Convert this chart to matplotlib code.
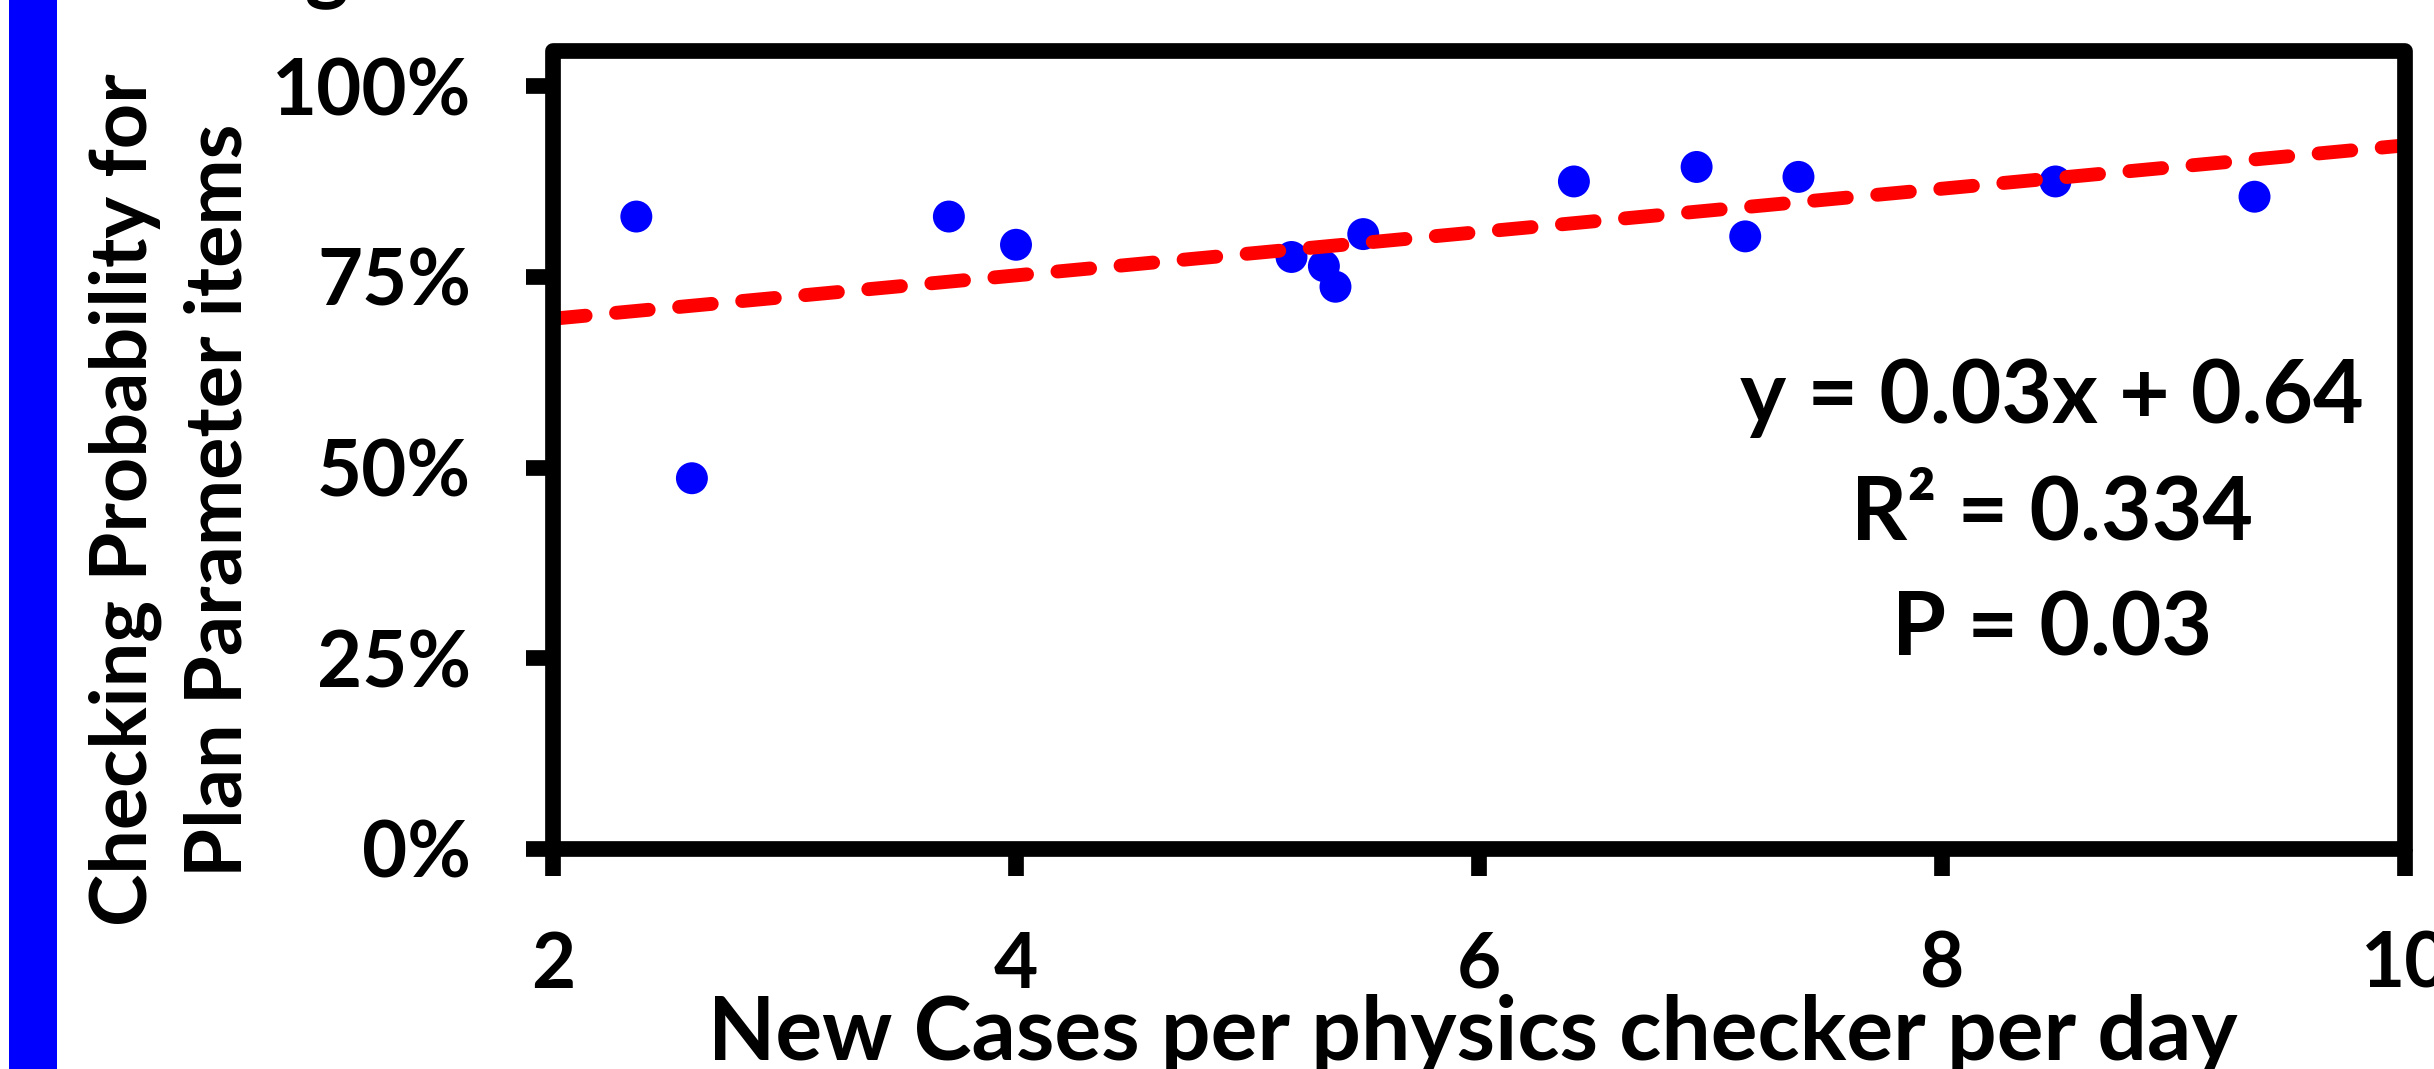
import numpy as np
import matplotlib
matplotlib.use("Agg")
import matplotlib.pyplot as plt
from matplotlib.patches import Rectangle

# ---- data ----
cases_per_checker = [2.36, 2.60, 3.71, 4.00, 5.19, 5.33, 5.38, 5.50,
                     6.41, 6.94, 7.15, 7.38, 8.49, 9.35]
checking_prob = [0.829, 0.486, 0.829, 0.792, 0.776, 0.764, 0.737, 0.806,
                 0.875, 0.894, 0.803, 0.881, 0.875, 0.855]
x_ticks = [2, 4, 6, 8, 10]
y_ticks = [0.0, 0.25, 0.50, 0.75, 1.00]
y_tick_labels = ["0%", "25%", "50%", "75%", "100%"]
stats_lines = ["y = 0.03x + 0.64", "R² = 0.334", "P = 0.03"]
x_label = "New Cases per physics checker per day"
y_label = "Checking Probability for\nPlan Parameter items"

plt.rcParams['font.family'] = ['Lato', 'DejaVu Sans']
plt.rcParams['font.weight'] = 'bold'

W, H = 2434, 1069
fig = plt.figure(figsize=(W / 100, H / 100), dpi=100)
fig.patch.set_facecolor('white')

# axes placement (pixels in reference)
ax_l, ax_r, ax_t, ax_b = 553, 2405, 51, 849
ax = fig.add_axes([ax_l / W, 1 - ax_b / H, (ax_r - ax_l) / W, (ax_b - ax_t) / H])

ax.scatter(cases_per_checker, checking_prob, s=23 ** 2, color='#0000FF',
           edgecolors='none', zorder=3)

slope, intercept = np.polyfit(cases_per_checker, checking_prob, 1)
xl = np.array([x_ticks[0], x_ticks[-1]], dtype=float)
ax.plot(xl, slope * xl + intercept, color='#FF0000', lw=10,
        dashes=(2.36, 2.2), dash_capstyle='round', zorder=4)

ax.set_xlim(x_ticks[0], x_ticks[-1])
ax.set_ylim(0, 1.046)
ax.set_xticks(x_ticks)
ax.set_xticklabels([str(v) for v in x_ticks])
ax.set_yticks(y_ticks)
ax.set_yticklabels(y_tick_labels)

for s in ax.spines.values():
    s.set_visible(False)
frame = Rectangle((0, 0), 1, 1, transform=ax.transAxes, fill=False,
                  ec='black', lw=11.3, joinstyle='round', clip_on=False, zorder=5)
ax.add_patch(frame)

ax.tick_params(axis='both', direction='out', length=19.4, width=11.3,
               color='black', pad=39.6)
ax.tick_params(axis='y', labelsize=56)
ax.tick_params(axis='x', labelsize=55)
for lab in ax.get_xticklabels() + ax.get_yticklabels():
    lab.set_fontweight('bold')

ax.set_xlabel(x_label, fontsize=63, fontweight='bold')
ax.xaxis.label.set_va('baseline')
ax.xaxis.set_label_coords((1473 - ax_l) / (ax_r - ax_l), (ax_b - 1060) / (ax_b - ax_t))

ax.set_ylabel(y_label, fontsize=57, fontweight='bold', linespacing=1.38)
ax.yaxis.label.set_va('center')
ax.yaxis.set_label_coords((172 - ax_l) / (ax_r - ax_l), (ax_b - 500) / (ax_b - ax_t))

baselines = [422.7, 539.3, 655.0]
for txt, by in zip(stats_lines, baselines):
    ax.text((2052 - ax_l) / (ax_r - ax_l), (ax_b - by) / (ax_b - ax_t), txt,
            transform=ax.transAxes, ha='center', va='baseline',
            fontsize=63, fontweight='bold', color='black', zorder=6)

# partial title descender visible at the top edge
fig.text(327 / W, 1 + 6 / H, "g", ha='center', va='baseline',
         fontsize=60, fontweight='bold')

# blue vertical bar on the left edge
fig.patches.append(Rectangle((9 / W, 0), 48 / W, 1, transform=fig.transFigure,
                             facecolor='#0000FF', edgecolor='none', figure=fig))

fig.savefig("out.png", dpi=100)
